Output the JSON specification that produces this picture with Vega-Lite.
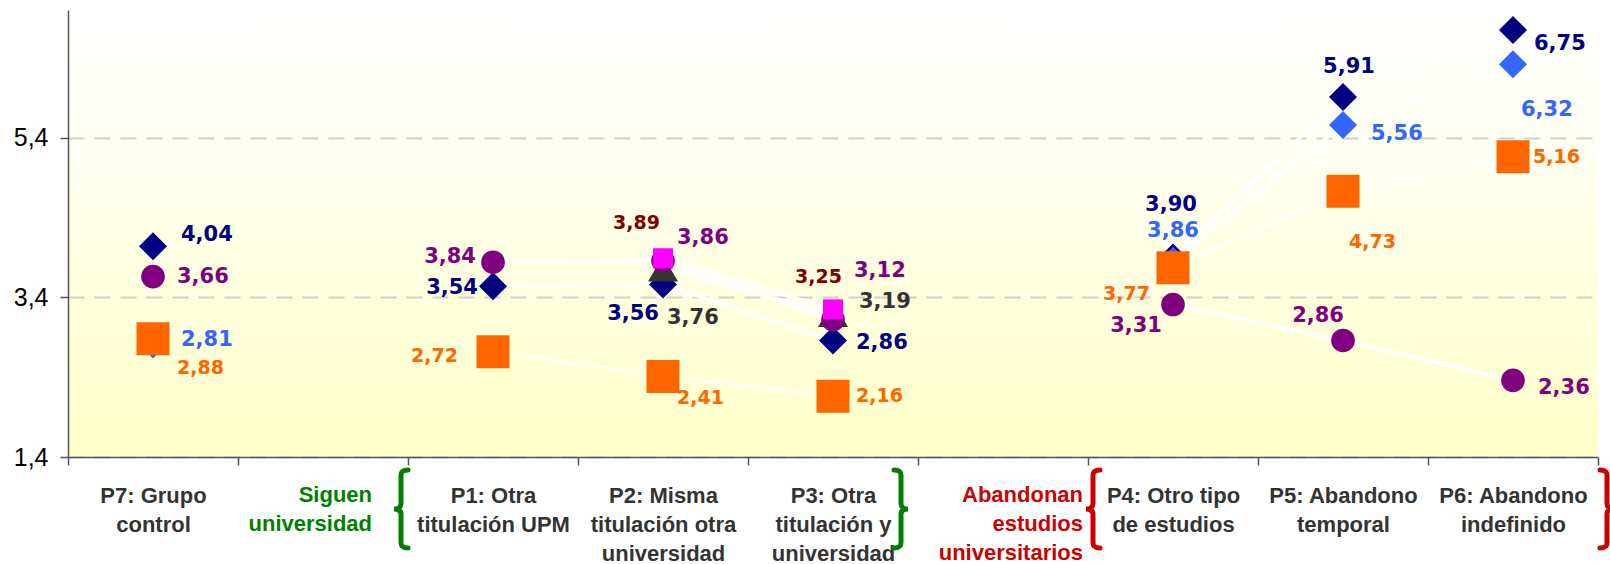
{
  "$schema": "https://vega.github.io/schema/vega-lite/v6.json",
  "width": 1530,
  "height": 447,
  "autosize": {"type": "none"},
  "padding": {"left": 68, "top": 10, "right": 12, "bottom": 107},
  "background": "white",
  "config": {
    "locale": {"number": {"decimal": ",", "thousands": ".", "grouping": [3], "currency": ["", " €"]}},
    "view": {"stroke": null, "fill": {"gradient": "linear", "x1": 0, "y1": 0, "x2": 0, "y2": 1, "stops": [{"offset": 0, "color": "#FFFFFF"}, {"offset": 0.3, "color": "#FFFFF2"}, {"offset": 1, "color": "#FFFFC8"}]}},
    "axis": {"labelFont": "Liberation Sans", "domainColor": "#555555", "tickColor": "#555555", "domainWidth": 1.5, "tickWidth": 1.5, "tickSize": 8, "title": null}
  },
  "datasets": {
    "pts": [
      {"s": "N", "c": "P7: Grupo|control", "g": "control", "v": 4.04},
      {"s": "N", "c": "P1: Otra|titulación UPM", "g": "siguen", "v": 3.54},
      {"s": "N", "c": "P2: Misma|titulación otra|universidad", "g": "siguen", "v": 3.56},
      {"s": "N", "c": "P3: Otra|titulación y|universidad", "g": "siguen", "v": 2.86},
      {"s": "N", "c": "P4: Otro tipo|de estudios", "g": "abandonan", "v": 3.90},
      {"s": "N", "c": "P5: Abandono|temporal", "g": "abandonan", "v": 5.91},
      {"s": "N", "c": "P6: Abandono|indefinido", "g": "abandonan", "v": 6.75},
      {"s": "B", "c": "P7: Grupo|control", "g": "control", "v": 2.81},
      {"s": "B", "c": "P4: Otro tipo|de estudios", "g": "abandonan", "v": 3.86},
      {"s": "B", "c": "P5: Abandono|temporal", "g": "abandonan", "v": 5.56},
      {"s": "B", "c": "P6: Abandono|indefinido", "g": "abandonan", "v": 6.32},
      {"s": "G", "c": "P2: Misma|titulación otra|universidad", "g": "siguen", "v": 3.76},
      {"s": "G", "c": "P3: Otra|titulación y|universidad", "g": "siguen", "v": 3.19},
      {"s": "U", "c": "P7: Grupo|control", "g": "control", "v": 3.66},
      {"s": "U", "c": "P1: Otra|titulación UPM", "g": "siguen", "v": 3.84},
      {"s": "U", "c": "P2: Misma|titulación otra|universidad", "g": "siguen", "v": 3.86},
      {"s": "U", "c": "P3: Otra|titulación y|universidad", "g": "siguen", "v": 3.12},
      {"s": "U", "c": "P4: Otro tipo|de estudios", "g": "abandonan", "v": 3.31},
      {"s": "U", "c": "P5: Abandono|temporal", "g": "abandonan", "v": 2.86},
      {"s": "U", "c": "P6: Abandono|indefinido", "g": "abandonan", "v": 2.36},
      {"s": "O", "c": "P7: Grupo|control", "g": "control", "v": 2.88},
      {"s": "O", "c": "P1: Otra|titulación UPM", "g": "siguen", "v": 2.72},
      {"s": "O", "c": "P2: Misma|titulación otra|universidad", "g": "siguen", "v": 2.41},
      {"s": "O", "c": "P3: Otra|titulación y|universidad", "g": "siguen", "v": 2.16},
      {"s": "O", "c": "P4: Otro tipo|de estudios", "g": "abandonan", "v": 3.77},
      {"s": "O", "c": "P5: Abandono|temporal", "g": "abandonan", "v": 4.73},
      {"s": "O", "c": "P6: Abandono|indefinido", "g": "abandonan", "v": 5.16},
      {"s": "M", "c": "P2: Misma|titulación otra|universidad", "g": "siguen", "v": 3.89},
      {"s": "M", "c": "P3: Otra|titulación y|universidad", "g": "siguen", "v": 3.25}
    ]
  },
  "encoding": {
    "x": {
      "field": "c", "type": "nominal", "sort": null,
      "scale": {"type": "band", "paddingInner": 0, "paddingOuter": 0,
        "domain": ["P7: Grupo|control", "S", "P1: Otra|titulación UPM", "P2: Misma|titulación otra|universidad", "P3: Otra|titulación y|universidad", "A", "P4: Otro tipo|de estudios", "P5: Abandono|temporal", "P6: Abandono|indefinido"]},
      "axis": {"labelAngle": 0, "tickBand": "extent", "grid": false, "labelFontSize": 22, "labelFontWeight": "bold", "labelColor": "#333333", "labelLineHeight": 29, "labelPadding": 20, "labelBaseline": "top", "labelLimit": 300,
        "labelExpr": "isString(datum.value) && datum.value != 'S' && datum.value != 'A' ? split(datum.value, '|') : ''"}
    }
  },
  "layer": [
    {
      "data": {"name": "pts"},
      "transform": [{"filter": "datum.g != 'control'"}],
      "mark": {"type": "line", "color": "#FFFFFF", "strokeWidth": {"expr": "datum.s == 'O' ? 2 : 3.5"}},
      "encoding": {
        "y": {"field": "v", "type": "quantitative",
          "scale": {"domain": [1.4, 7.0], "nice": false, "zero": false},
          "axis": {"values": [1.4, 3.4, 5.4], "format": ".1f", "labelFontSize": 25, "labelColor": "#000000", "labelPadding": 12, "grid": true, "gridColor": "#CFCFCF", "gridDash": [16, 10], "gridWidth": 2}},
        "detail": [{"field": "s"}, {"field": "g"}]
      }
    },
    {
      "data": {"name": "pts"},
      "mark": {"type": "point", "filled": true, "opacity": 1, "strokeWidth": 0},
      "encoding": {
        "y": {"field": "v", "type": "quantitative"},
        "shape": {"field": "s", "type": "nominal", "legend": null, "scale": {"domain": ["N", "B", "G", "U", "O", "M"], "range": ["diamond", "diamond", "triangle-up", "circle", "square", "square"]}},
        "size": {"field": "s", "type": "nominal", "legend": null, "scale": {"type": "ordinal", "domain": ["N", "B", "G", "U", "O", "M"], "range": [784, 784, 900, 560, 1089, 400]}},
        "fill": {"field": "s", "type": "nominal", "legend": null, "scale": {"domain": ["N", "B", "G", "U", "O", "M"], "range": ["#000080", "#3366FF", "#333333", "#800080", "#FF6600", "#FF00FF"]}}
      }
    },
    {
      "data": {"name": "pts"},
      "mark": {
        "type": "text", "font": "DejaVu Sans", "fontWeight": "bold", "baseline": "middle",
        "fontSize": {"expr": "datum.s == 'O' || datum.s == 'M' ? 19 : 21"},
        "align": {"expr": "indexof(['UP1','NP1','OP1','MP2','NP2','MP3','OP4','UP4','UP5'], datum.s + slice(datum.c,0,2)) >= 0 ? 'right' : (indexof(['NP4','BP4','NP5'], datum.s + slice(datum.c,0,2)) >= 0 ? 'center' : 'left')"},
        "dx": {"expr": "({NP7:28, UP7:24, BP7:28, OP7:24, UP1:-17, NP1:-15, OP1:-35, MP2:-3, UP2:14, NP2:-4, GP2:4, OP2:14, MP3:9, UP3:21, GP3:26, NP3:23, OP3:23, NP4:-2, BP4:0, OP4:-23, UP4:-11, NP5:6, BP5:28, OP5:6, UP5:1, NP6:21, BP6:8, OP6:20, UP6:25})[datum.s + slice(datum.c,0,2)]"},
        "dy": {"expr": "({NP7:-11, UP7:0, BP7:-4, OP7:29, UP1:-5, NP1:2, OP1:4, MP2:-35, UP2:-23, NP2:29, GP2:49, OP2:22, MP3:-32, UP3:-49, GP3:-12, NP3:3, OP3:0, NP4:-52, BP4:-30, OP4:26, UP4:21, NP5:-30, BP5:9, OP5:51, UP5:-24, NP6:14, BP6:46, OP6:0, UP6:8})[datum.s + slice(datum.c,0,2)]"}
      },
      "encoding": {
        "y": {"field": "v", "type": "quantitative"},
        "text": {"field": "v", "type": "quantitative", "format": ".2f"},
        "color": {"field": "s", "type": "nominal", "legend": null, "scale": {"domain": ["N", "B", "G", "U", "O", "M"], "range": ["#000080", "#3366FF", "#333333", "#800080", "#FF6600", "#800000"]}}
      }
    },
    {
      "data": {"values": [{"c": "S", "t": "Siguen|universidad"}]},
      "mark": {"type": "text", "font": "Liberation Sans", "fontWeight": "bold", "fontSize": 22, "align": "right", "baseline": "top", "lineBreak": "|", "lineHeight": 29, "dy": 28, "dx": -36, "color": "#008000"},
      "encoding": {
        "x": {"field": "c", "type": "nominal", "bandPosition": 1},
        "y": {"datum": 1.4, "type": "quantitative"},
        "text": {"field": "t", "type": "nominal"}
      }
    },
    {
      "data": {"values": [{"c": "A", "t": "Abandonan|estudios|universitarios"}]},
      "mark": {"type": "text", "font": "Liberation Sans", "fontWeight": "bold", "fontSize": 22, "align": "right", "baseline": "top", "lineBreak": "|", "lineHeight": 29, "dy": 28, "dx": -5, "color": "#CC0000"},
      "encoding": {
        "x": {"field": "c", "type": "nominal", "bandPosition": 1},
        "y": {"datum": 1.4, "type": "quantitative"},
        "text": {"field": "t", "type": "nominal"}
      }
    },
    {
      "data": {"values": [{"c": "P1: Otra|titulación UPM", "g": "siguen"}, {"c": "P4: Otro tipo|de estudios", "g": "abandonan"}]},
      "mark": {"type": "point", "filled": false, "size": 6084, "strokeWidth": 5, "strokeCap": "round", "opacity": 1, "yOffset": 52,
        "shape": "M0.18,-1 C0.05,-1 0,-0.96 0,-0.86 L0,-0.14 C0,-0.05 -0.06,0 -0.18,0 C-0.06,0 0,0.05 0,0.14 L0,0.86 C0,0.96 0.05,1 0.18,1",
        "stroke": {"expr": "datum.g == 'siguen' ? '#008000' : '#CC0000'"},
        "xOffset": {"expr": "datum.g == 'siguen' ? -7 : 5"}
      },
      "encoding": {
        "x": {"field": "c", "type": "nominal", "bandPosition": 0},
        "y": {"datum": 1.4, "type": "quantitative"}
      }
    },
    {
      "data": {"values": [{"c": "P3: Otra|titulación y|universidad", "g": "siguen"}, {"c": "P6: Abandono|indefinido", "g": "abandonan"}]},
      "mark": {"type": "point", "filled": false, "size": 6084, "strokeWidth": 5, "strokeCap": "round", "opacity": 1, "yOffset": 52,
        "shape": "M-0.18,-1 C-0.05,-1 0,-0.96 0,-0.86 L0,-0.14 C0,-0.05 0.06,0 0.18,0 C0.06,0 0,0.05 0,0.14 L0,0.86 C0,0.96 -0.05,1 -0.18,1",
        "stroke": {"expr": "datum.g == 'siguen' ? '#008000' : '#CC0000'"},
        "xOffset": {"expr": "datum.g == 'siguen' ? -17 : 9"}
      },
      "encoding": {
        "x": {"field": "c", "type": "nominal", "bandPosition": 1},
        "y": {"datum": 1.4, "type": "quantitative"}
      }
    }
  ]
}
